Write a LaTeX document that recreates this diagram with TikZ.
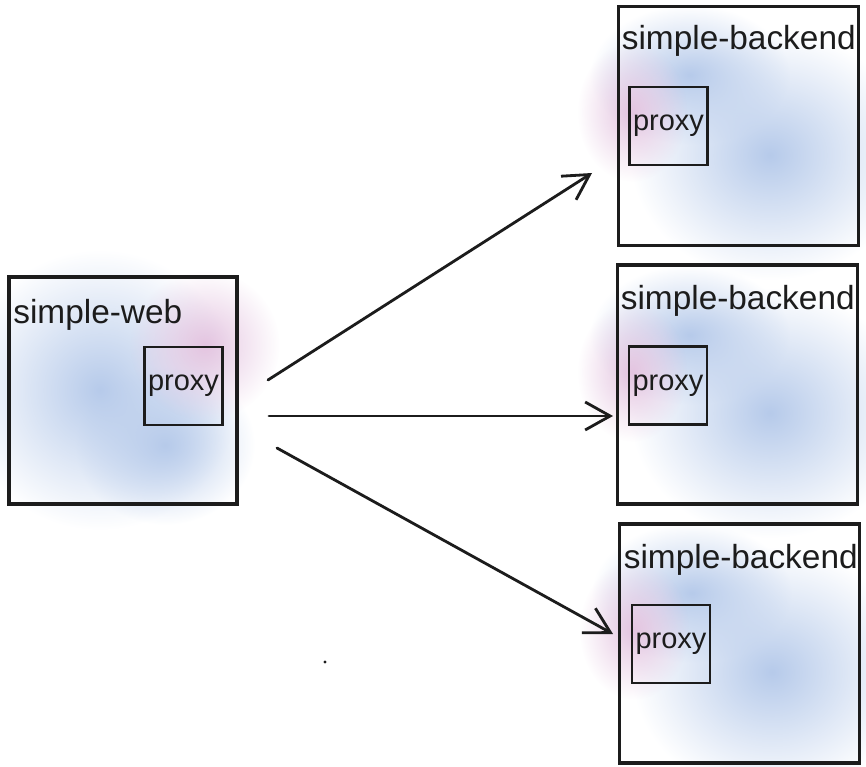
\documentclass[tikz,border=0pt]{standalone}
\usepackage{fontspec}
\setmainfont{Liberation Sans}
\usetikzlibrary{arrows.meta,fadings,positioning}

\definecolor{blobblue}{RGB}{182,202,234}
\definecolor{blobpink}{RGB}{228,196,224}
\definecolor{ink}{RGB}{28,28,28}
\tikzfading[name=cloudfade, inner color=transparent!0, outer color=transparent!100]

\begin{document}
\begin{tikzpicture}[x=0.02cm,y=-0.02cm,
	hostbox/.style={draw=ink, line width=1.9pt, inner sep=0pt, outer sep=0pt, minimum width=4.8cm, minimum height=4.78cm},
	proxybox/.style={draw=ink, line width=1.6pt, inner sep=0pt, outer sep=0pt, minimum size=1.56cm, text=ink, font=\fontsize{16.5}{18}\selectfont},
	hostlabel/.style={anchor=base west, inner sep=0pt, text=ink, font=\fontsize{19}{22}\selectfont},
	call/.style={draw=ink, line width=1.6pt, line cap=round, -{Straight Barb[length=0.5cm, width=0.56cm, line width=1.6pt]}},
	blob/.style={path fading=cloudfade}]
	\useasboundingbox (0,0) rectangle (866,767);

	% soft background clouds
	\fill [blobblue, blob] (100,390) ellipse [x radius=140, y radius=140];
	\fill [blobblue, blob] (165,445) ellipse [x radius=90, y radius=80];
	\fill [blobpink, blob] (205,345) ellipse [x radius=75, y radius=75];

	\fill [blobblue, blob] (770,155) ellipse [x radius=140, y radius=125];
	\fill [blobblue, blob] (690,75) ellipse [x radius=100, y radius=70];
	\fill [blobpink, blob] (632,112) ellipse [x radius=55, y radius=70];

	\fill [blobblue, blob] (770,413) ellipse [x radius=140, y radius=125];
	\fill [blobblue, blob] (690,335) ellipse [x radius=100, y radius=70];
	\fill [blobpink, blob] (632,372) ellipse [x radius=55, y radius=70];

	\fill [blobblue, blob] (772,672) ellipse [x radius=140, y radius=125];
	\fill [blobblue, blob] (692,593) ellipse [x radius=100, y radius=70];
	\fill [blobpink, blob] (634,630) ellipse [x radius=55, y radius=70];

	% hosts
	\node [hostbox, minimum width=4.56cm, minimum height=4.54cm] (web) at (123,390.5) {};
	\node [hostbox] (back1) at (738.5,126) {};
	\node [hostbox] (back2) at (737.5,384.5) {};
	\node [hostbox] (back3) at (739.5,643.5) {};

	\node [hostlabel] (weblabel) at ([shift={(4,46)}]web.north west) {simple-web};
	\node [hostlabel] (back1label) at ([shift={(3,43)}]back1.north west) {simple-backend};
	\node [hostlabel] (back2label) at ([shift={(3,44)}]back2.north west) {simple-backend};
	\node [hostlabel] (back3label) at ([shift={(4,44)}]back3.north west) {simple-backend};

	% sidecars
	\node [proxybox] (webproxy) at (183.5,386) {proxy};
	\node [proxybox] (back1proxy) at (668.5,126) {proxy};
	\node [proxybox] (back2proxy) at (668,385.5) {proxy};
	\node [proxybox] (back3proxy) at (671,644) {proxy};

	% calls
	\coordinate (s1) at ([shift={(31,-10.5)}]web.east);
	\coordinate (s2) at ([shift={(32,25.5)}]web.east);
	\coordinate (s3) at ([shift={(40,57.5)}]web.east);
	\coordinate (t1) at ([shift={(-26.5,47)}]back1.west);
	\coordinate (t2) at ([shift={(-4.5,31.5)}]back2.west);
	\coordinate (t3) at ([shift={(-6.5,-9.5)}]back3.west);

	\draw [call] (s1) -- (t1);
	\draw [call] (s2) -- (t2);
	\draw [call] (s3) -- (t3);

	\fill [ink] (325,662) circle [radius=1.6];
\end{tikzpicture}
\end{document}
